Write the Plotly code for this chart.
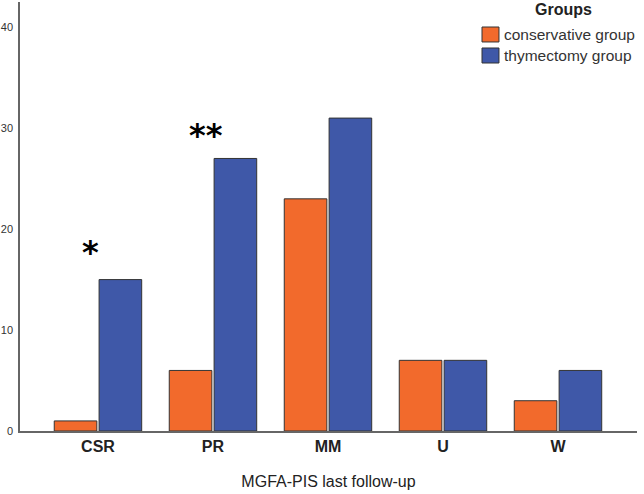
import plotly.graph_objects as go

categories = ["CSR", "PR", "MM", "U", "W"]
conservative = [1, 6, 23, 7, 3]
thymectomy = [15, 27, 31, 7, 6]
group_names = ["conservative group", "thymectomy group"]
sig_labels = ["*", "**"]
sig_cats = ["CSR", "PR"]
sig_y = [17.7, 29.35]
y_ticks = [0, 10, 20, 30, 40]

ORANGE = "#F26A2C"
BLUE = "#3F58A8"
EDGE = "#333333"
FONT = "Arial, Liberation Sans, sans-serif"

fig = go.Figure()
fig.add_trace(go.Bar(x=categories, y=conservative, name=group_names[0],
                     marker=dict(color=ORANGE, line=dict(color=EDGE, width=1))))
fig.add_trace(go.Bar(x=categories, y=thymectomy, name=group_names[1],
                     marker=dict(color=BLUE, line=dict(color=EDGE, width=1))))

for lab, c, yv in zip(sig_labels, sig_cats, sig_y):
    fig.add_annotation(x=c, y=yv, text=lab, showarrow=False, xshift=-7,
                       font=dict(family="DejaVu Sans", size=32, color="black", weight="bold"))

# custom legend (large swatches, tight text) in paper coordinates
leg_x0, leg_x1 = 0.7488, 0.7763
sw_y = [(0.9068, 0.9417), (0.8578, 0.8928)]
txt_y = [0.9254, 0.8753]
for name, col, (ya, yb), ty in zip(group_names, [ORANGE, BLUE], sw_y, txt_y):
    fig.add_shape(type="rect", xref="paper", yref="paper", x0=leg_x0, x1=leg_x1, y0=ya, y1=yb,
                  fillcolor=col, line=dict(color=EDGE, width=1))
    fig.add_annotation(xref="paper", yref="paper", x=0.7812, y=ty, text=name, showarrow=False,
                       xanchor="left", yanchor="middle",
                       font=dict(family=FONT, size=15.5, color="#333"))
fig.add_annotation(xref="paper", yref="paper", x=0.8809, y=0.9814, text="<b>Groups</b>",
                   showarrow=False, xanchor="center", yanchor="middle",
                   font=dict(family=FONT, size=16, color="#222"))

fig.update_layout(
    width=644, height=494,
    margin=dict(l=20, r=7, t=2, b=63),
    paper_bgcolor="white", plot_bgcolor="white",
    barmode="group", bargap=0.22, bargroupgap=0.05,
    font=dict(family=FONT, color="#222"),
    showlegend=False,
    xaxis=dict(
        range=[-0.678, 4.687],
        showline=True, linecolor="#666", linewidth=1.5,
        ticks="", tickfont=dict(size=16, color="#222", family=FONT, weight="bold"),
        title=dict(text="MGFA-PIS last follow-up", font=dict(size=16, color="#222"), standoff=22),
        showgrid=False, zeroline=False,
    ),
    yaxis=dict(
        range=[0, 42.5],
        tickvals=y_ticks,
        showline=True, linecolor="#666", linewidth=1.5,
        ticks="", tickfont=dict(size=11, color="#333"),
        showgrid=False, zeroline=False,
        ticklabelstandoff=3,
    ),
)

fig.write_html("out.html")
